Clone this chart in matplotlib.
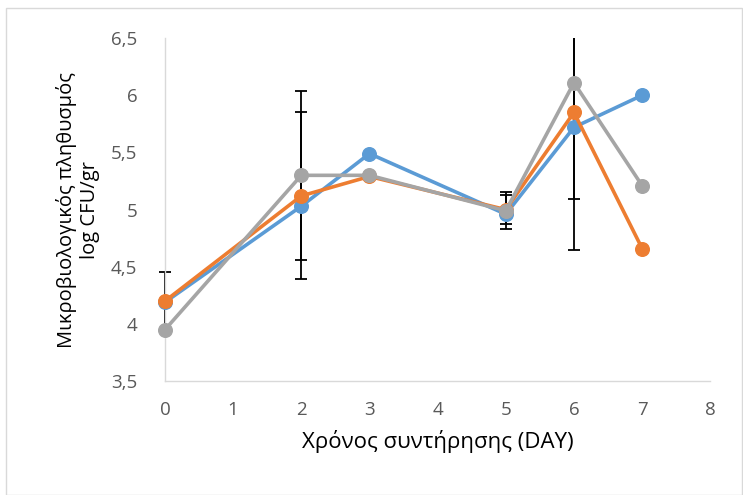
import numpy as np
import matplotlib
matplotlib.use('Agg')
import matplotlib.pyplot as plt
from matplotlib.patches import Rectangle
from matplotlib.ticker import FuncFormatter

plt.rcParams['font.family'] = ['Open Sans', 'DejaVu Sans']

# Data
days = [0, 2, 3, 5, 6, 7]
series_blue = [4.19, 5.03, 5.49, 4.96, 5.72, 6.00]
series_orange = [4.20, 5.12, 5.29, 5.00, 5.85, 4.66]
series_gray = [3.95, 5.30, 5.30, 4.99, 6.11, 5.21]
err_orange = [0.255, 0.73, 0.0, 0.13, 1.20, 0.0]
err_gray = [0.0, 0.74, 0.0, 0.16, 1.02, 0.0]

fig = plt.figure(figsize=(7.43, 4.95), dpi=100)
ax = fig.add_axes([0.222, 0.230, 0.734, 0.693])

# clip error bars at the top/bottom of the plot but let caps stick out sideways
clip_rect = Rectangle((-0.05, 0), 1.1, 1, transform=ax.transAxes, visible=False)
ax.add_patch(clip_rect)

# Error bars (drawn under the lines)
for vals, errs in [(series_orange, err_orange), (series_gray, err_gray)]:
    d = np.array(days)
    v = np.array(vals)
    e = np.array(errs)
    m = e > 0
    eb = ax.errorbar(d[m], v[m], yerr=e[m], fmt='none', ecolor='black',
                     elinewidth=1.3, capsize=4.1, capthick=1.3, zorder=1.5)
    for art in eb.lines[1] + eb.lines[2]:
        art.set_clip_path(clip_rect)

for vals, col in [(series_blue, '#5B9BD5'), (series_orange, '#ED7D31'), (series_gray, '#A5A5A5')]:
    ax.plot(days, vals, color=col, linewidth=2.6, marker='o', markersize=9.8,
            zorder=3, clip_on=False)

ax.set_xlim(0, 8)
ax.set_ylim(3.5, 6.5)
ax.set_xticks(range(0, 9))
ax.set_yticks(np.arange(3.5, 6.51, 0.5))
ax.yaxis.set_major_formatter(FuncFormatter(lambda v, p: ('%g' % v).replace('.', ',')))

for s in ['top', 'right']:
    ax.spines[s].set_visible(False)
for s in ['left', 'bottom']:
    ax.spines[s].set_color('#D9D9D9')
    ax.spines[s].set_linewidth(1.0)
ax.tick_params(length=0, labelsize=13.5, colors='#595959')
ax.tick_params(axis='x', pad=14)
ax.tick_params(axis='y', pad=20)

ax.set_xlabel('Χρόνος συντήρησης (DAY)', fontsize=16, color='black', labelpad=8)
ax.set_ylabel('Μικροβιολογικός πληθυσμός\nlog CFU/gr', fontsize=14.5, color='black', labelpad=8)

fig.patches.append(Rectangle((0.008, 0.0), 0.99, 0.983, transform=fig.transFigure,
                             fill=False, edgecolor='#D9D9D9', linewidth=1.0))

fig.savefig('out.png', dpi=100)
